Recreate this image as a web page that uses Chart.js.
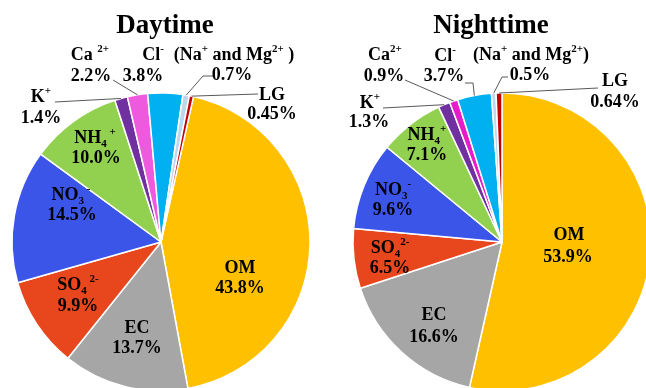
<!DOCTYPE html>
<html>
<head>
<meta charset="utf-8">
<script src="https://cdn.jsdelivr.net/npm/chart.js@4/dist/chart.umd.min.js"></script>
<style>
  html, body { margin: 0; padding: 0; background: #fff; width: 646px; height: 388px; overflow: hidden; }
  canvas { position: absolute; top: 0; }
  #day { left: 0; }
  #night { left: 323px; }
</style>
</head>
<body>
<canvas id="day" width="323" height="388"></canvas>
<canvas id="night" width="323" height="388"></canvas>
<script>
// PM composition (% of mass), slices listed clockwise starting with OM
const species    = ['OM', 'EC', 'SO4', 'NO3', 'NH4', 'K', 'Ca', 'Cl', 'NaMg', 'LG'];
const dayShare   = [43.8, 13.7, 9.9, 14.5, 10.0, 1.4, 2.2, 3.8, 0.7, 0.45];
const nightShare = [53.9, 16.6, 6.5, 9.6, 7.1, 1.3, 0.9, 3.7, 0.5, 0.64];

const dayColors   = ['#FFC000', '#A6A6A6', '#E8461C', '#3B55E9', '#92D050', '#7030A0', '#EE5ADE', '#00B0F0', '#BDD7EE', '#C00000'];
const nightColors = ['#FFC000', '#A6A6A6', '#E8461C', '#3B55E9', '#92D050', '#7030A0', '#E61CC8', '#00B0F0', '#BDD7EE', '#C00000'];

// species names as rich text: [text, '' | 'sup' | 'sub']
const dayNames = {
  OM:   [['OM', '']],
  EC:   [['EC', '']],
  SO4:  [['SO', ''], ['4', 'sub'], [' 2-', 'sup']],
  NO3:  [['NO', ''], ['3', 'sub'], [' -', 'sup']],
  NH4:  [['NH', ''], ['4', 'sub'], [' +', 'sup']],
  K:    [['K', ''], ['+', 'sup']],
  Ca:   [['Ca ', ''], ['2+', 'sup']],
  Cl:   [['Cl', ''], ['-', 'sup']],
  NaMg: [['(Na', ''], ['+', 'sup'], [' and Mg', ''], ['2+', 'sup'], [' )', '']],
  LG:   [['LG', '']]
};
const nightNames = {
  OM:   [['OM', '']],
  EC:   [['EC', '']],
  SO4:  [['SO', ''], ['4', 'sub'], ['2-', 'sup']],
  NO3:  [['NO', ''], ['3', 'sub'], ['-', 'sup']],
  NH4:  [['NH', ''], ['4', 'sub'], ['+', 'sup']],
  K:    [['K', ''], ['+', 'sup']],
  Ca:   [['Ca', ''], ['2+', 'sup']],
  Cl:   [['Cl', ''], ['-', 'sup']],
  NaMg: [['(Na', ''], ['+', 'sup'], [' and Mg', ''], ['2+', 'sup'], [')', '']],
  LG:   [['LG', '']]
};

// label placement (page px): [name centre x, name baseline, value centre x, value baseline]
const dayLabelPos = {
  OM: [240, 273, 240, 293], EC: [137, 333, 137, 353], SO4: [78, 290, 78, 311],
  NO3: [71, 200, 72, 220], NH4: [95, 143, 96, 163], K: [41, 102, 41, 123],
  Ca: [90, 60, 91, 81], Cl: [153, 60, 143, 81], NaMg: [234, 60, 232, 80], LG: [272, 100, 272, 119]
};
const nightLabelPos = {
  OM: [569, 240, 568, 262], EC: [434, 320, 434, 342], SO4: [390, 253, 390, 273],
  NO3: [393, 195, 393, 215], NH4: [427, 140, 427, 160], K: [370, 108, 369, 127],
  Ca: [385, 60, 384, 81], Cl: [445, 61, 444, 81], NaMg: [531, 60, 530, 80], LG: [615, 86, 615, 107]
};
// leader lines: points near the label, the last segment runs to the slice's outer edge
const dayLeaders = {
  K: [[55, 102]], Ca: [[113, 80]], NaMg: [[213, 76], [203, 76]], LG: [[258, 94]]
};
const nightLeaders = {
  K: [[383, 108]], Ca: [[405, 80]], Cl: [[465, 83], [473, 83]], NaMg: [[508, 77], [502, 77]], LG: [[598, 88]]
};

const SERIF = '"Liberation Serif", "Times New Roman", serif';

function fmtPct(v) {
  const tenth = Math.abs(v * 10 - Math.round(v * 10)) < 1e-6;
  return (tenth ? v.toFixed(1) : v.toFixed(2)) + '%';
}

function drawRich(ctx, segs, cx, baseline) {
  const fontFor = k => k ? `bold 11px ${SERIF}` : `bold 18px ${SERIF}`;
  let total = 0;
  const widths = segs.map(([t, k]) => { ctx.font = fontFor(k); const w = ctx.measureText(t).width; total += w; return w; });
  let x = cx - total / 2;
  segs.forEach(([t, k], i) => {
    ctx.font = fontFor(k);
    const dy = k === 'sup' ? -8 : (k === 'sub' ? 4 : 0);
    ctx.fillText(t, x, baseline + dy);
    x += widths[i];
  });
}

const pieNotes = {
  id: 'pieNotes',
  afterDatasetsDraw(chart, args, opts) {
    const ctx = chart.ctx;
    const ox = opts.offsetX;
    const meta = chart.getDatasetMeta(0);
    const values = chart.data.datasets[0].data;
    ctx.save();
    // leader lines
    ctx.strokeStyle = '#595959';
    ctx.lineWidth = 1;
    Object.keys(opts.leaders).forEach(key => {
      const arc = meta.data[species.indexOf(key)];
      const p = arc.getProps(['x', 'y', 'startAngle', 'endAngle', 'outerRadius'], true);
      const mid = (p.startAngle + p.endAngle) / 2;
      const ex = p.x + Math.cos(mid) * p.outerRadius;
      const ey = p.y + Math.sin(mid) * p.outerRadius;
      const pts = opts.leaders[key];
      ctx.beginPath();
      ctx.moveTo(pts[0][0] - ox, pts[0][1]);
      for (let i = 1; i < pts.length; i++) ctx.lineTo(pts[i][0] - ox, pts[i][1]);
      ctx.lineTo(ex, ey);
      ctx.stroke();
    });
    // title
    ctx.fillStyle = '#000';
    ctx.textBaseline = 'alphabetic';
    ctx.textAlign = 'left';
    ctx.font = `bold 27px ${SERIF}`;
    const tw = ctx.measureText(opts.title).width;
    ctx.fillText(opts.title, opts.titleX - ox - tw / 2, 33);
    // slice labels: name + share
    species.forEach((key, i) => {
      const pos = opts.labels[key];
      drawRich(ctx, opts.names[key], pos[0] - ox, pos[1]);
      drawRich(ctx, [[fmtPct(values[i]), '']], pos[2] - ox, pos[3]);
    });
    ctx.restore();
  }
};

function makePie(id, values, colors, rotation, padLeft, padRight, notes) {
  return new Chart(document.getElementById(id), {
    type: 'pie',
    data: {
      labels: species,
      datasets: [{
        data: values,
        backgroundColor: colors,
        borderColor: '#ffffff',
        borderWidth: 1.5,
        clip: false
      }]
    },
    options: {
      responsive: false,
      animation: false,
      devicePixelRatio: 1,
      rotation: rotation,
      radius: 149,
      layout: { padding: { top: 96, bottom: 0, left: padLeft, right: padRight } },
      plugins: {
        legend: { display: false },
        tooltip: { enabled: false },
        pieNotes: notes
      }
    },
    plugins: [pieNotes]
  });
}

makePie('day', dayShare, dayColors, 12.6, 0, 1, {
  offsetX: 0, title: 'Daytime', titleX: 165,
  names: dayNames, labels: dayLabelPos, leaders: dayLeaders
});
makePie('night', nightShare, nightColors, 0, 35, 0, {
  offsetX: 323, title: 'Nighttime', titleX: 491,
  names: nightNames, labels: nightLabelPos, leaders: nightLeaders
});
</script>
</body>
</html>
